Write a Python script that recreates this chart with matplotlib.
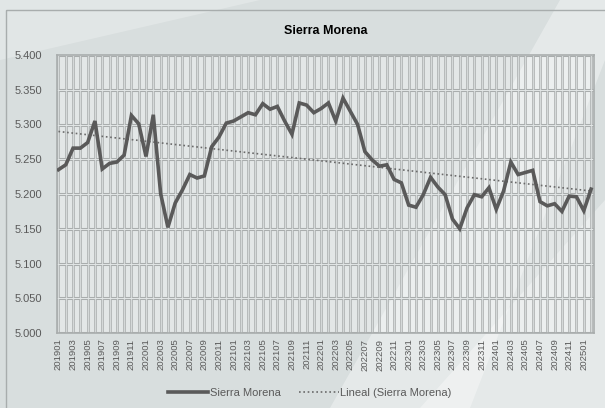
import numpy as np
import matplotlib
matplotlib.use("Agg")
import matplotlib.pyplot as plt
from matplotlib.patches import Polygon, Rectangle
from matplotlib.lines import Line2D

months = [f"{y}{m:02d}" for y in range(2019, 2026) for m in range(1, 13)][:74]
values = [5.235, 5.242, 5.266, 5.266, 5.274, 5.305, 5.236, 5.244, 5.246, 5.256,
          5.313, 5.301, 5.254, 5.314, 5.201, 5.152, 5.187, 5.206, 5.228, 5.223,
          5.226, 5.268, 5.282, 5.302, 5.305, 5.311, 5.317, 5.314, 5.330, 5.322,
          5.326, 5.305, 5.286, 5.331, 5.328, 5.317, 5.323, 5.331, 5.305, 5.338,
          5.319, 5.300, 5.261, 5.249, 5.240, 5.242, 5.221, 5.216, 5.184, 5.181,
          5.199, 5.224, 5.210, 5.199, 5.164, 5.150, 5.180, 5.199, 5.196, 5.209,
          5.178, 5.204, 5.246, 5.228, 5.231, 5.234, 5.189, 5.183, 5.186, 5.175,
          5.197, 5.196, 5.176, 5.207]
series_name = "Sierra Morena"
trend_name = "Lineal (Sierra Morena)"
yticks = [5.000, 5.050, 5.100, 5.150, 5.200, 5.250, 5.300, 5.350, 5.400]

FONT = ['Liberation Sans Narrow', 'Liberation Sans', 'DejaVu Sans']
plt.rcParams['font.family'] = FONT

W, H = 605, 408
fig = plt.figure(figsize=(W / 100, H / 100), dpi=100)
fig.patch.set_facecolor('#d8dede')

# faint background shapes
bg = fig.add_axes([0, 0, 1, 1], zorder=-10)
bg.set_xlim(0, W); bg.set_ylim(H, 0); bg.axis('off')
bg.add_patch(Polygon([[330, 408], [470, 408], [605, 60], [605, 0], [560, 0]],
                     closed=True, color='white', alpha=0.35, lw=0))
bg.add_patch(Polygon([[420, 408], [605, 408], [605, 200]],
                     closed=True, color='white', alpha=0.35, lw=0))
bg.add_patch(Polygon([[0, 0], [260, 0], [0, 60]],
                     closed=True, color='white', alpha=0.25, lw=0))
bg.add_patch(Rectangle((5.5, 9.5), 700, 500, fill=False, ec='#a8adad', lw=1.0))

x = np.arange(len(values))
vals = np.array(values)

left, right, top, bottom = 57, 594, 55, 333
ax = fig.add_axes([left / W, 1 - bottom / H, (right - left) / W, (bottom - top) / H])
ax.set_facecolor((1, 1, 1, 0.3))

ax.set_xlim(-0.2, len(values) - 1 + 0.4)
ax.set_ylim(5.0, 5.4)

# double-style gridlines
for yv in yticks:
    ax.axhline(yv, color='#a9adad', lw=2.2, zorder=1)
    ax.axhline(yv, color='#e2e6e6', lw=0.7, zorder=1.1)
ax.vlines(x, 5.0, 5.4, color='#aeb2b2', lw=1.9, zorder=1)
ax.vlines(x, 5.0, 5.4, color='#e2e6e6', lw=0.55, zorder=1.1)

ax.plot(x, vals, color='#5a5a5a', lw=2.6, solid_joinstyle='miter', zorder=3)
coef = np.polyfit(x, vals, 1)
ax.plot(x, np.polyval(coef, x), color='#6a6a6a', lw=1.2, ls=(0, (1, 1.6)), zorder=2.5)

for s in ax.spines.values():
    s.set_color('#a9adad'); s.set_linewidth(1.2)

ax.set_yticks(yticks)
ax.set_yticklabels([f"{v:.3f}" for v in yticks], fontsize=8, color='#5a5a5a')
ax.set_xticks(x[::2])
ax.set_xticklabels(months[::2], rotation=90, fontsize=6.8, color='#5a5a5a')
ax.tick_params(axis='y', length=0, pad=11)
ax.tick_params(axis='x', length=0, pad=4)

fig.text(0.5 * (left + right) / W + 0.0, 1 - 31 / H, "Sierra Morena", ha='center', va='center',
         fontsize=9, fontweight='bold', color='black')

handles = [Line2D([], [], color='#5a5a5a', lw=2.6),
           Line2D([], [], color='#6a6a6a', lw=1.2, ls=(0, (1, 1.6)))]
fig.legend(handles, [series_name, trend_name], loc='center', bbox_to_anchor=(310 / W, 1 - 393 / H),
           ncol=2, frameon=False, fontsize=8, handlelength=3.6, handletextpad=0.15,
           columnspacing=1.6, labelcolor='#5a5a5a')

fig.savefig("out.png", dpi=100, facecolor=fig.get_facecolor())
